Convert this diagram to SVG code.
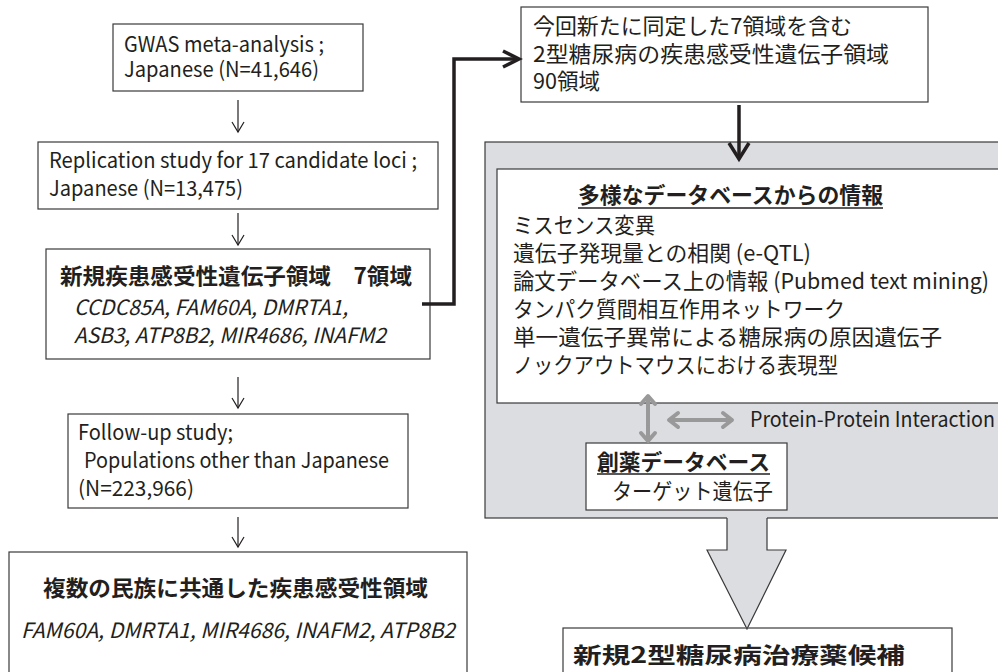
<svg xmlns="http://www.w3.org/2000/svg" width="998" height="672" viewBox="0 0 998 672">
<style>
text{font-family:"Noto Sans CJK JP","Noto Sans",sans-serif;fill:#231f20}
.lat{font-size:21px}
.it{font-size:21px;font-style:italic}
.jp{font-size:22px}
.b{font-weight:bold}
.box{fill:#fff;stroke:#3a3a3a;stroke-width:1.2}
.thin{fill:none;stroke:#231f20;stroke-width:1.2}
.thick{fill:none;stroke:#231f20;stroke-width:3.5;stroke-linejoin:miter}
.gray{fill:none;stroke:#999;stroke-width:4;stroke-linecap:round;stroke-linejoin:round}
</style>
<rect width="998" height="672" fill="#fff"/>

<g id="panel">
<rect x="485" y="142" width="520" height="376" fill="#dcdde0" stroke="#3a3a3a" stroke-width="1.2"/>
</g>

<g id="gwas">
<rect class="box" x="113" y="24" width="250" height="67"/>
<text class="lat" x="124" y="52" textLength="200" lengthAdjust="spacingAndGlyphs">GWAS meta-analysis ;</text>
<text class="lat" x="124" y="77" textLength="195" lengthAdjust="spacingAndGlyphs">Japanese (N=41,646)</text>
</g>

<g id="replication">
<rect class="box" x="38" y="142" width="400" height="67"/>
<text class="lat" x="49" y="168" textLength="368" lengthAdjust="spacingAndGlyphs">Replication study for 17 candidate loci ;</text>
<text class="lat" x="49" y="196" textLength="194" lengthAdjust="spacingAndGlyphs">Japanese (N=13,475)</text>
</g>

<g id="novel">
<rect class="box" x="46" y="249" width="384" height="110"/>
<text class="jp b" x="60" y="284" font-size="23" textLength="352" lengthAdjust="spacingAndGlyphs">新規疾患感受性遺伝子領域　7領域</text>
<text class="it" x="74" y="315" textLength="274" lengthAdjust="spacingAndGlyphs">CCDC85A, FAM60A, DMRTA1,</text>
<text class="it" x="74" y="343" textLength="312" lengthAdjust="spacingAndGlyphs">ASB3, ATP8B2, MIR4686, INAFM2</text>
</g>

<g id="followup">
<rect class="box" x="68" y="414" width="340" height="94"/>
<text class="lat" x="78" y="440" textLength="155" lengthAdjust="spacingAndGlyphs">Follow-up study;</text>
<text class="lat" x="84" y="468" textLength="305" lengthAdjust="spacingAndGlyphs">Populations other than Japanese</text>
<text class="lat" x="78" y="496" textLength="116" lengthAdjust="spacingAndGlyphs">(N=223,966)</text>
</g>

<g id="common">
<rect class="box" x="9" y="552" width="458" height="130"/>
<text class="jp b" x="43" y="596" font-size="23" textLength="385" lengthAdjust="spacingAndGlyphs">複数の民族に共通した疾患感受性領域</text>
<text class="it" x="21" y="638" textLength="434" lengthAdjust="spacingAndGlyphs">FAM60A, DMRTA1, MIR4686, INAFM2, ATP8B2</text>
</g>

<g id="regions90">
<rect class="box" x="521" y="7" width="407" height="95"/>
<text class="jp" x="533" y="34" textLength="319" lengthAdjust="spacingAndGlyphs">今回新たに同定した7領域を含む</text>
<text class="jp" x="533" y="62" textLength="356" lengthAdjust="spacingAndGlyphs">2型糖尿病の疾患感受性遺伝子領域</text>
<text class="jp" x="533" y="89" textLength="67" lengthAdjust="spacingAndGlyphs">90領域</text>
</g>

<g id="databases">
<rect class="box" x="497" y="169" width="510" height="234"/>
<text class="jp b" x="578" y="203" textLength="305" lengthAdjust="spacingAndGlyphs">多様なデータベースからの情報</text>
<line x1="578" y1="208" x2="883" y2="208" stroke="#231f20" stroke-width="1.3"/>
<text class="jp" x="513" y="233" textLength="142" lengthAdjust="spacingAndGlyphs">ミスセンス変異</text>
<text class="jp" x="513" y="261" textLength="298" lengthAdjust="spacingAndGlyphs">遺伝子発現量との相関 (e-QTL)</text>
<text class="jp" x="513" y="289" textLength="476" lengthAdjust="spacingAndGlyphs">論文データベース上の情報  (Pubmed text mining)</text>
<text class="jp" x="513" y="317" textLength="332" lengthAdjust="spacingAndGlyphs">タンパク質間相互作用ネットワーク</text>
<text class="jp" x="513" y="345" textLength="429" lengthAdjust="spacingAndGlyphs">単一遺伝子異常による糖尿病の原因遺伝子</text>
<text class="jp" x="513" y="373" textLength="325" lengthAdjust="spacingAndGlyphs">ノックアウトマウスにおける表現型</text>
</g>

<g id="drugdb">
<rect class="box" x="586" y="443" width="201" height="67"/>
<text class="jp b" x="597" y="470" textLength="173" lengthAdjust="spacingAndGlyphs">創薬データベース</text>
<line x1="597" y1="474" x2="770" y2="474" stroke="#231f20" stroke-width="1.3"/>
<text class="jp" x="612" y="499" textLength="161" lengthAdjust="spacingAndGlyphs">ターゲット遺伝子</text>
</g>

<g id="ppi-label">
<text class="lat" x="750" y="427" font-size="20" textLength="245" lengthAdjust="spacingAndGlyphs">Protein-Protein Interaction</text>
</g>

<g id="candidates">
<rect class="box" x="563" y="628" width="389" height="60"/>
<text class="jp b" x="573" y="663" font-size="31" textLength="332" lengthAdjust="spacingAndGlyphs">新規2型糖尿病治療薬候補</text>
</g>

<g id="connectors">
<line class="thin" x1="238" y1="100" x2="238" y2="132"/>
<polyline class="thin" points="232,122 238,132 244,122"/>
<line class="thin" x1="238" y1="213" x2="238" y2="245"/>
<polyline class="thin" points="232,235 238,245 244,235"/>
<line class="thin" x1="238" y1="377" x2="238" y2="408"/>
<polyline class="thin" points="232,398 238,408 244,398"/>
<line class="thin" x1="238" y1="517" x2="238" y2="547"/>
<polyline class="thin" points="232,537 238,547 244,537"/>

<polyline class="thick" points="422,304 454,304 454,59 519,59"/>
<polyline class="thick" points="503,51 519,59 503,67"/>

<line class="thick" x1="739" y1="105" x2="739" y2="158"/>
<polyline class="thick" points="729,143 739,159 749,143"/>

<line class="gray" x1="648" y1="398" x2="648" y2="439"/>
<polyline class="gray" points="641,404 648,396 655,404"/>
<polyline class="gray" points="641,433 648,441 655,433"/>
<line class="gray" x1="670" y1="420" x2="731" y2="420"/>
<polyline class="gray" points="678,413 669,420 678,427"/>
<polyline class="gray" points="723,413 732,420 723,427"/>

<polygon points="727,516 727,550 707,550 747,630 786,550 767,550 767,516" fill="#dcdde0"/>
<polyline points="727,518 727,550 707,550 747,629 786,550 767,550 767,518" fill="none" stroke="#3a3a3a" stroke-width="1.2"/>
</g>
</svg>
